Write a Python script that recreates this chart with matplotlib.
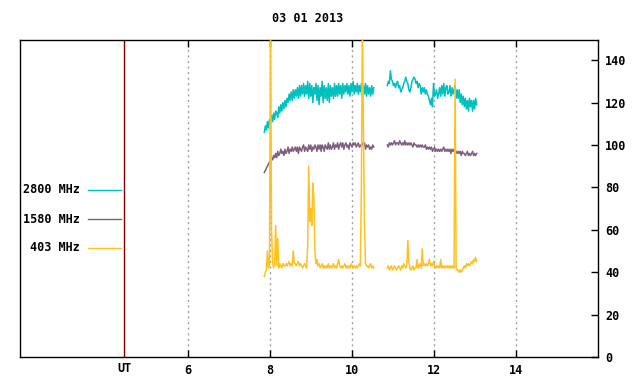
import numpy as np
import matplotlib
matplotlib.use("Agg")
import matplotlib.pyplot as plt
from matplotlib.lines import Line2D
from matplotlib.transforms import blended_transform_factory

plt.rcParams['font.family'] = ['DejaVu Sans Mono']
plt.rcParams['font.weight'] = 'bold'

title = "03 01 2013"
labels = ["2800 MHz", "1580 MHz", "403 MHz"]
colors = ["#00bfbf", "#7f5f80", "#ffc020"]

# time span of the two recorded segments (UT hours)
seg1_span = (7.86, 10.53)
seg2_span = (10.86, 13.04)

f2800_seg1 = [106, 109, 107, 111, 108, 112, 110, 114, 111, 115,
              112, 116, 115, 113, 118, 115, 119, 116, 120, 117,
              121, 118, 122, 120, 124, 121, 125, 121, 126, 122,
              126, 123, 127, 122, 128, 123, 128, 124, 129, 123,
              128, 124, 130, 122, 129, 123, 128, 120, 127, 124,
              129, 121, 128, 119, 127, 123, 130, 120, 128, 122,
              127, 121, 129, 120, 128, 123, 127, 122, 129, 123,
              128, 123, 129, 124, 128, 122, 129, 124, 128, 125,
              129, 124, 128, 123, 129, 125, 130, 124, 128, 125,
              129, 124, 128, 125, 129, 123, 128, 124, 129, 123,
              128, 124, 127, 123, 128, 124, 127]
f2800_seg2 = [128, 130, 129, 135, 131, 130, 128, 129, 127, 129,
              130, 127, 128, 125, 126, 127, 129, 130, 132, 130,
              129, 126, 125, 127, 130, 131, 132, 131, 129, 130,
              127, 129, 128, 124, 127, 125, 127, 124, 126, 124,
              123, 121, 119, 122, 118, 129, 123, 124, 126, 122,
              124, 127, 123, 128, 124, 129, 123, 127, 128, 124,
              125, 128, 123, 127, 124, 126, 128, 122, 126, 122,
              126, 120, 124, 119, 123, 118, 122, 117, 121, 116,
              122, 118, 121, 116, 121, 117, 122, 119]

f1580_seg1 = [87, 88, 89, 90, 91, 92, 92, 94, 93, 95,
              94, 96, 94, 97, 95, 96, 98, 96, 97, 95,
              98, 96, 97, 99, 96, 98, 97, 99, 97, 98,
              99, 97, 99, 96, 99, 98, 97, 99, 100, 97,
              99, 98, 97, 100, 98, 100, 97, 99, 98, 100,
              99, 97, 100, 98, 100, 97, 100, 99, 97, 100,
              99, 98, 101, 98, 100, 98, 99, 101, 98, 100,
              99, 101, 98, 100, 101, 99, 101, 98, 100, 101,
              99, 100, 98, 101, 100, 99, 101, 100, 101, 99,
              100, 101, 99, 100, 99, 101, 100, 101, 98, 100,
              99, 100, 98, 99, 98, 100, 99]
f1580_seg2 = [100, 99, 101, 100, 101, 100, 101, 102, 100, 101,
              101, 100, 102, 101, 100, 101, 100, 102, 100, 101,
              100, 101, 100, 101, 100, 99, 101, 100, 100, 99,
              100, 99, 100, 99, 100, 99, 99, 100, 98, 99,
              98, 99, 98, 99, 97, 98, 99, 97, 98, 97,
              98, 97, 98, 97, 98, 99, 97, 98, 97, 98,
              97, 98, 96, 98, 97, 98, 96, 97, 96, 97,
              96, 97, 95, 97, 96, 96, 95, 96, 97, 95,
              96, 95, 96, 97, 95, 96, 95, 96]

f403_seg1 = [38, 40, 41, 50, 42, 44, 160, 60, 45, 42,
             44, 62, 43, 56, 42, 44, 43, 42, 44, 43,
             43, 44, 43, 44, 45, 43, 44, 43, 50, 44,
             44, 43, 44, 45, 43, 44, 43, 42, 43, 44,
             43, 42, 52, 90, 64, 70, 62, 82, 75, 50,
             44, 46, 43, 44, 42, 43, 44, 42, 43, 42,
             43, 42, 44, 42, 43, 42, 43, 44, 42, 43,
             42, 44, 46, 43, 42, 43, 42, 43, 44, 42,
             43, 42, 43, 42, 44, 43, 42, 43, 42, 43,
             42, 43, 44, 43, 80, 160, 107, 64, 44, 43,
             43, 42, 43, 44, 42, 43, 42]
f403_seg2 = [42, 43, 41, 42, 43, 41, 42, 43, 42, 41,
             42, 43, 42, 41, 43, 42, 44, 43, 42, 43,
             55, 45, 42, 41, 42, 43, 41, 42, 42, 46,
             42, 43, 44, 42, 51, 43, 44, 43, 44, 43,
             44, 46, 43, 44, 43, 45, 43, 42, 43, 42,
             43, 42, 46, 42, 43, 42, 43, 42, 43, 42,
             43, 42, 43, 42, 43, 42, 131, 42, 41, 41,
             40, 41, 40, 41, 42, 43, 42, 44, 43, 44,
             43, 44, 45, 44, 46, 45, 47, 45]

series = [(f2800_seg1, f2800_seg2), (f1580_seg1, f1580_seg2), (f403_seg1, f403_seg2)]

xticks = [6, 8, 10, 12, 14]
yticks = [0, 20, 40, 60, 80, 100, 120, 140]
ut_pos = 4.44
xlim = (1.9, 16.0)
ylim = (0, 149.5)

fig = plt.figure(figsize=(6.4, 3.84), dpi=100)
ax = fig.add_axes([20/640, 27/384, 578/640, 317/384])

for (s1, s2), c in zip(series, colors):
    for seg, span in ((s1, seg1_span), (s2, seg2_span)):
        t = np.linspace(span[0], span[1], len(seg))
        ax.plot(t, seg, color=c, lw=1.1, zorder=3)

for xt in xticks:
    ax.axvline(xt, color="#a0a0a0", lw=1.0, ls=(0, (1.5, 2.5)), zorder=1)
ax.axvline(ut_pos, color="#800000", lw=1.0, zorder=2)

ax.set_xlim(*xlim)
ax.set_ylim(*ylim)
ax.set_xticks(xticks)
ax.set_xticklabels([str(v) for v in xticks], fontsize=8.5, fontweight='bold')
ax.set_yticks(yticks)
ax.set_yticklabels([str(v) for v in yticks], fontsize=8.5, fontweight='bold')
ax.yaxis.tick_right()
ax.tick_params(axis='y', direction='in', length=5, width=1, pad=5, left=False, right=True)
ax.tick_params(axis='x', direction='in', length=5, width=1, pad=5, top=True, bottom=True)
for sp in ax.spines.values():
    sp.set_linewidth(1.0)
    sp.set_color("black")

trans = blended_transform_factory(ax.transData, ax.transAxes)
ax.text(ut_pos, -0.017, "UT", transform=trans, ha='center', va='top',
        fontsize=8.5, fontweight='bold')

fig.text(308/640, 1 - 18/384, title, ha='center', va='center',
         fontsize=8.5, fontweight='bold')

leg_y = [0.527, 0.435, 0.344]
for lab, c, yy in zip(labels, colors, leg_y):
    ax.text(0.104, yy, lab, transform=ax.transAxes, ha='right', va='center',
            fontsize=8.5, fontweight='bold')
    ax.add_line(Line2D([0.118, 0.175], [yy, yy], transform=ax.transAxes,
                       color=c, lw=1.0))

fig.savefig("out.png", dpi=100)
